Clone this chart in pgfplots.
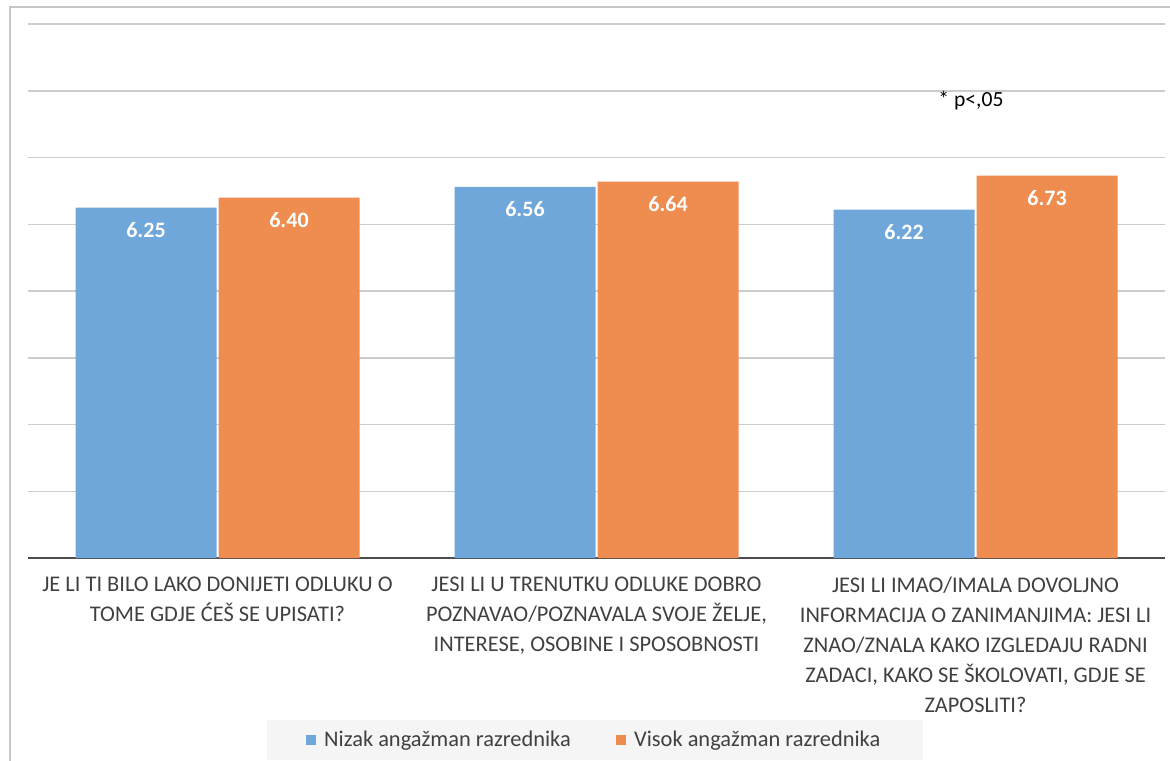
\documentclass[border=0pt]{standalone}
\usepackage{pgfplots}
\pgfplotsset{compat=1.18}
\usepackage{fontspec}
\setmainfont{Carlito}
\definecolor{cblue}{HTML}{70A7DA}
\definecolor{corange}{HTML}{EE8D4F}
\definecolor{txt}{HTML}{404040}
\begin{document}
\begin{tikzpicture}
\begin{axis}[
 name=ax,
 scale only axis, width=568.5pt, height=267pt,
 ymin=1, ymax=9, xmin=-0.5, xmax=2.5,
 ybar=1pt, bar width=70.5pt,
 axis x line*=bottom, axis y line*=left,
 y axis line style={draw=none},
 x axis line style={draw=black!70, line width=1pt},
 major tick length=0pt,
 ytick={2,3,4,5,6,7,8,9}, yticklabels={},
 ymajorgrids, major grid style={gray!40, line width=0.75pt},
 xtick={0,1,2},
 xticklabels={{JE LI TI BILO LAKO DONIJETI ODLUKU O\\TOME GDJE ĆEŠ SE UPISATI?},
 {JESI LI U TRENUTKU ODLUKE DOBRO\\POZNAVAO/POZNAVALA SVOJE ŽELJE,\\INTERESE, OSOBINE I SPOSOBNOSTI},
 {JESI LI IMAO/IMALA DOVOLJNO\\INFORMACIJA O ZANIMANJIMA: JESI LI\\ZNAO/ZNALA KAKO IZGLEDAJU RADNI\\ZADACI, KAKO SE ŠKOLOVATI, GDJE SE\\ZAPOSLITI?}},
 xticklabel style={align=center, text=txt, font=\fontsize{11.2}{15}\selectfont, yshift=-6pt},
 /pgf/number format/assume math mode=true,
 nodes near coords={\pgfmathprintnumber[fixed,fixed zerofill,precision=2,assume math mode=true]{\pgfplotspointmeta}},
 nodes near coords style={anchor=north, yshift=-4pt, text=white, font=\fontsize{11}{13}\selectfont\bfseries},
 legend style={at={(0.4987,-0.341)}, anchor=center, legend columns=2, fill=gray!8, draw=none,
   font=\fontsize{11.2}{13}\selectfont, text=txt, inner xsep=19.5pt, inner ysep=3.5pt,
   /tikz/every odd column/.append style={column sep=2pt},
   /tikz/every even column/.append style={column sep=20.5pt}},
 legend image code/.code={\fill[#1] (0pt,-2.6pt) rectangle (5.2pt,2.6pt);},
 clip=false,
]
\addplot[fill=cblue, draw=none] coordinates {(0,6.25) (1,6.56) (2,6.22)};
\addplot[fill=corange, draw=none] coordinates {(0,6.40) (1,6.64) (2,6.73)};
\legend{Nizak angažman razrednika, Visok angažman razrednika}
\node[font=\fontsize{10.8}{12}\selectfont, text=black] at (axis cs:1.988,7.85) {* p<,05};
\end{axis}
\pgfresetboundingbox
\begin{scope}[shift={(ax.south west)}, x=1pt, y=1pt]
\path[use as bounding box] (-14,-101) rectangle (571,279);
\draw[gray!45, line width=0.75pt] (-9,-105) -- (-9,275.5) -- (575,275.5);
\end{scope}
\end{tikzpicture}
\end{document}
